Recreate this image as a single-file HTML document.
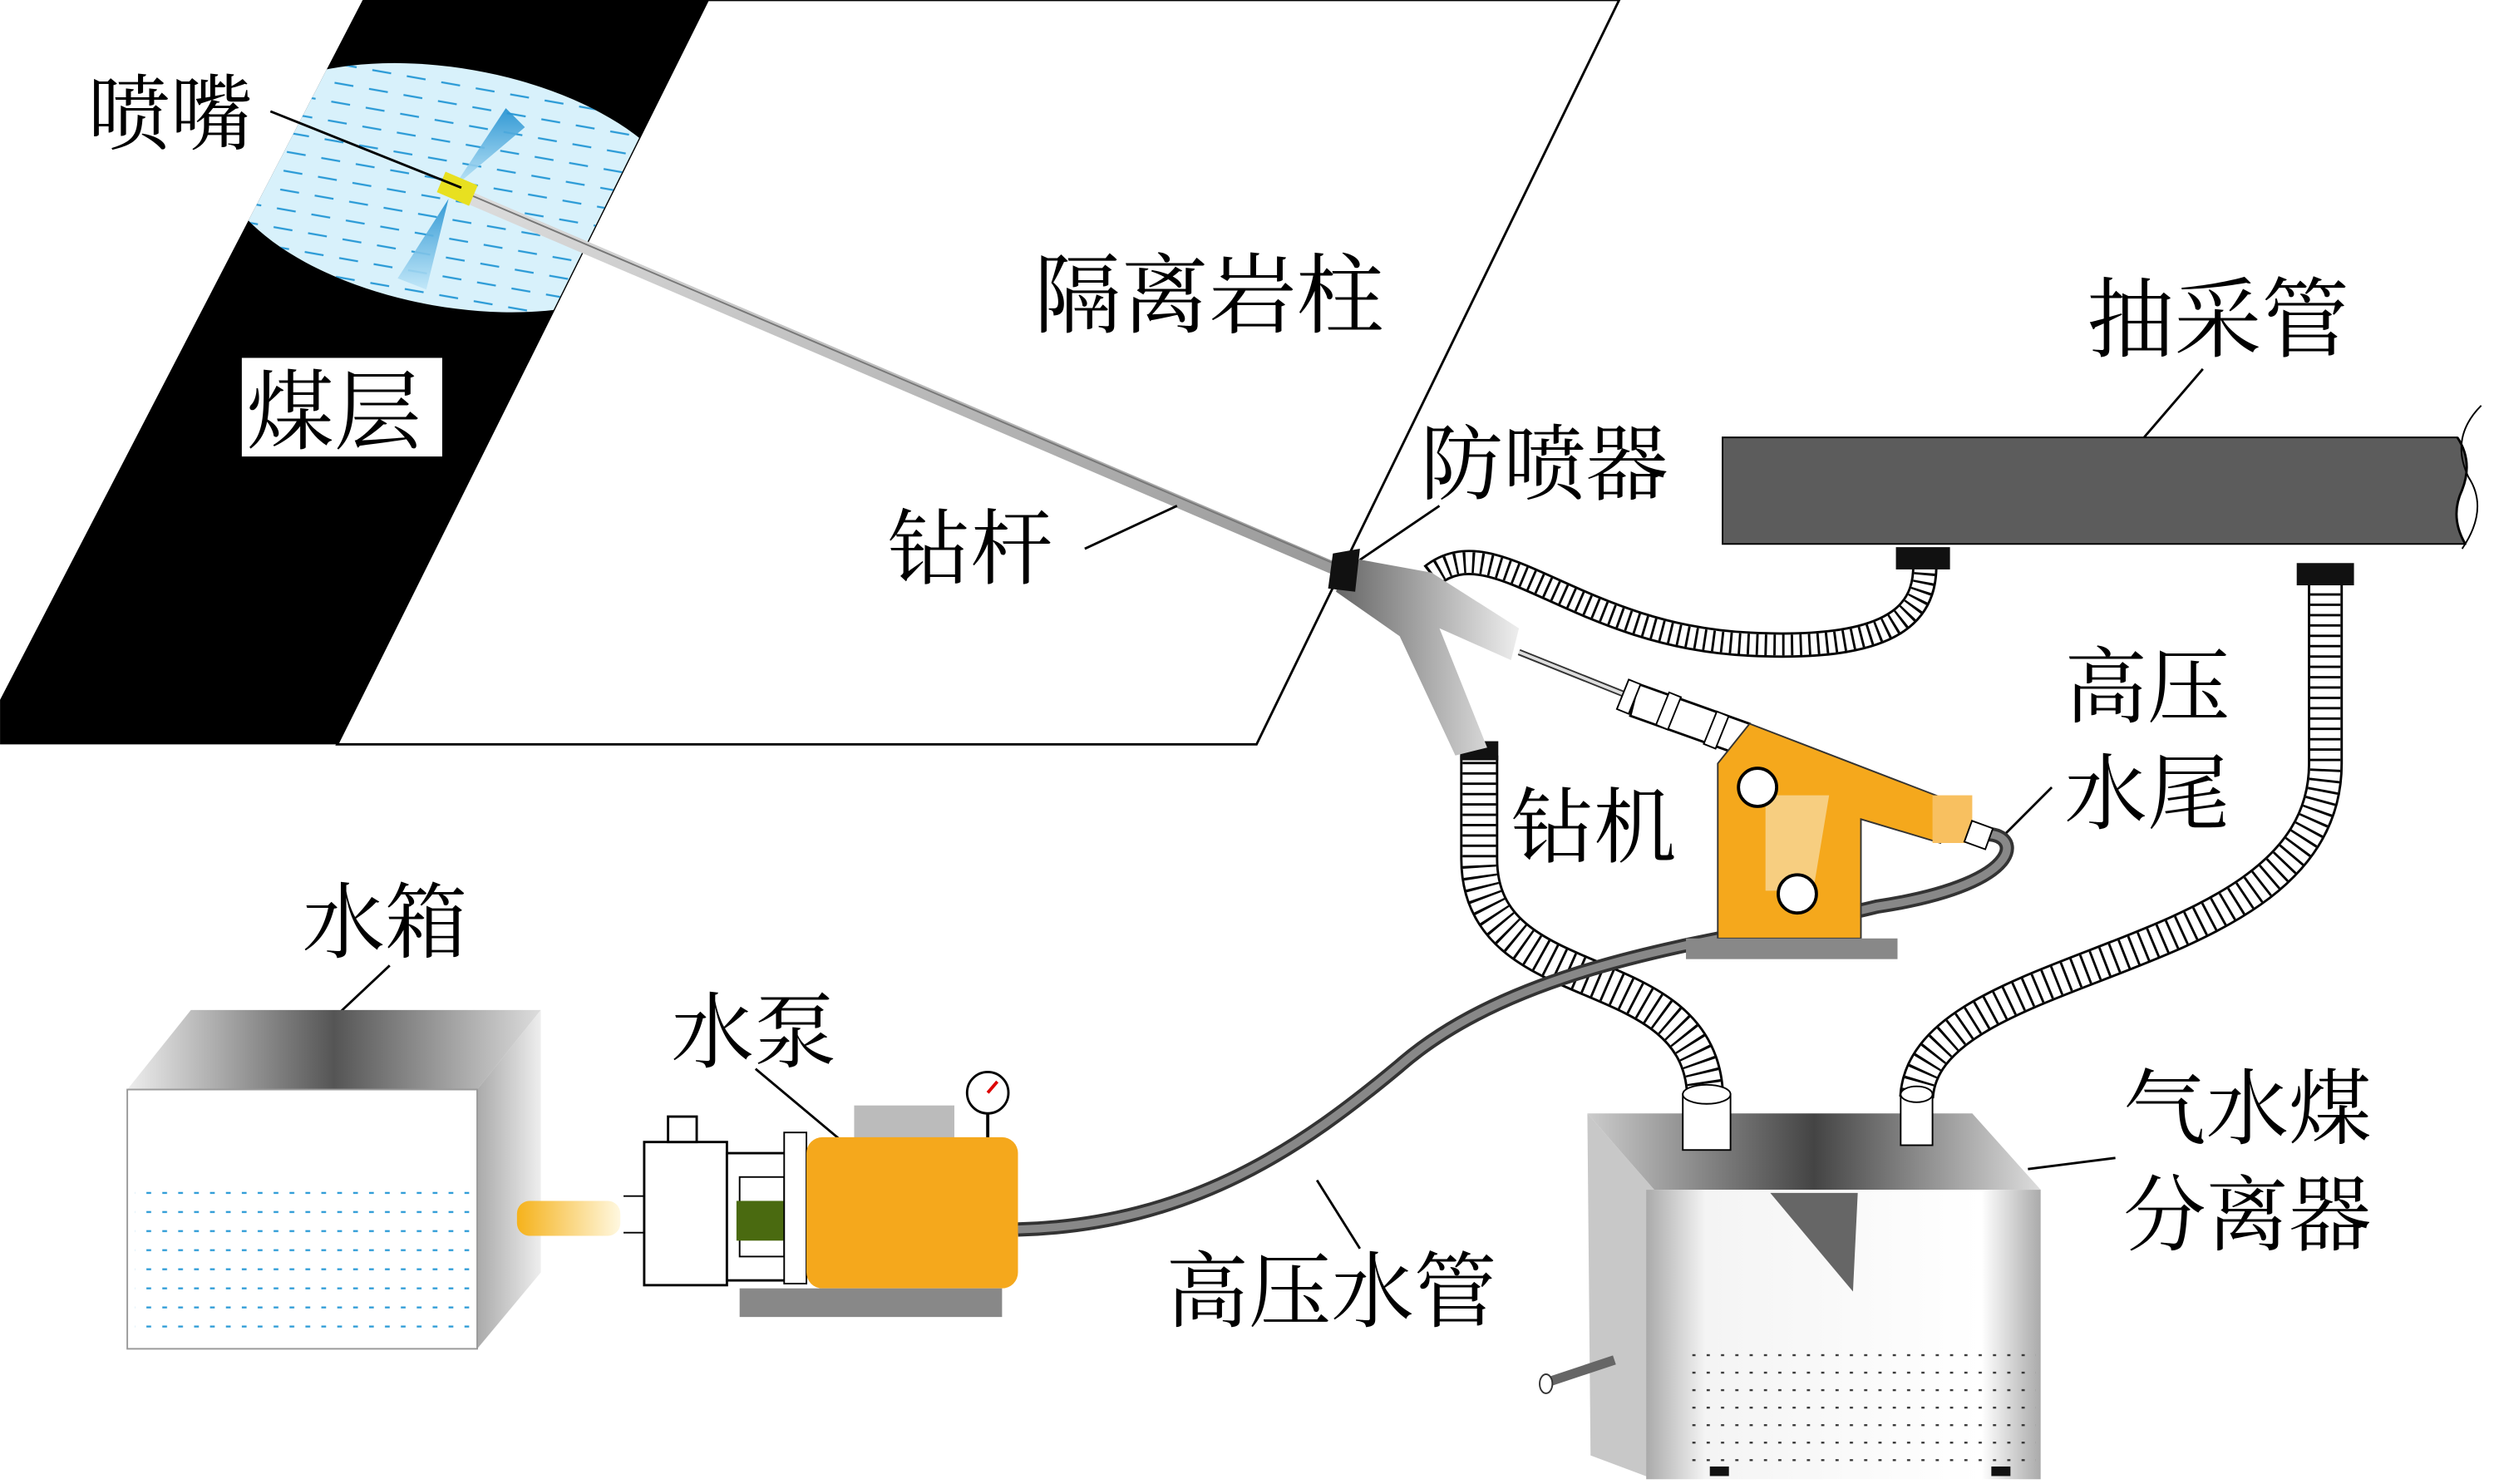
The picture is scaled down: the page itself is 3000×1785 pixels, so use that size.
<!DOCTYPE html>
<html><head><meta charset="utf-8"><style>
html,body{margin:0;padding:0;background:#fff}
svg{display:block}
text{font-family:"Liberation Serif","Noto Serif CJK SC","Noto Sans CJK SC",serif;fill:#000}
</style></head><body>
<svg width="3000" height="1785" viewBox="0 0 1568 933" xmlns="http://www.w3.org/2000/svg">
<defs>
<linearGradient id="rod" x1="0" y1="0" x2="1" y2="1"><stop offset="0" stop-color="#ddd"/><stop offset="1" stop-color="#999"/></linearGradient>
<linearGradient id="tankTop" x1="0" y1="0" x2="1" y2="0"><stop offset="0" stop-color="#eee"/><stop offset="0.5" stop-color="#555"/><stop offset="1" stop-color="#ddd"/></linearGradient>
<linearGradient id="tankSide" x1="0" y1="0" x2="1" y2="0"><stop offset="0" stop-color="#aaa"/><stop offset="1" stop-color="#eee"/></linearGradient>
<linearGradient id="sepFront" x1="0" y1="0" x2="1" y2="0"><stop offset="0" stop-color="#aaa"/><stop offset="0.15" stop-color="#f4f4f4"/><stop offset="0.85" stop-color="#fff"/><stop offset="1" stop-color="#aaa"/></linearGradient>
<linearGradient id="sepTop" x1="0" y1="0" x2="1" y2="0"><stop offset="0" stop-color="#ccc"/><stop offset="0.5" stop-color="#444"/><stop offset="1" stop-color="#ddd"/></linearGradient>
<linearGradient id="yel" x1="0" y1="0" x2="1" y2="0"><stop offset="0" stop-color="#f5b21b"/><stop offset="1" stop-color="#fff8e0"/></linearGradient>
<linearGradient id="spray" x1="0" y1="0" x2="0" y2="1"><stop offset="0" stop-color="#1f8fd0"/><stop offset="1" stop-color="#bfe6f8"/></linearGradient>
<linearGradient id="prev" x1="0" y1="0" x2="1" y2="0"><stop offset="0" stop-color="#666"/><stop offset="1" stop-color="#eee"/></linearGradient>
<pattern id="dash" width="22" height="12" patternUnits="userSpaceOnUse"><line x1="2" y1="6" x2="14" y2="6" stroke="#2a9ad6" stroke-width="1.2"/></pattern>
<pattern id="dots" width="10" height="12" patternUnits="userSpaceOnUse"><line x1="2" y1="6" x2="5" y2="6" stroke="#2a9ad6" stroke-width="1.2"/></pattern>
<pattern id="dotsk" width="9" height="11" patternUnits="userSpaceOnUse"><line x1="2" y1="5" x2="4" y2="5" stroke="#333" stroke-width="1.2"/></pattern>
<clipPath id="band"><polygon points="228,0 445,0 212,468 0,468 0,440"/></clipPath>
</defs>

<polygon points="228,0 445,0 212,468 0,468 0,440" fill="#000"/>
<polygon points="445,0 1018,0 790,468 212,468" fill="#fff" stroke="#000" stroke-width="1.5"/>
<g clip-path="url(#band)">
<ellipse cx="285" cy="118" rx="150" ry="75" transform="rotate(10 285 118)" fill="#d8f1fb"/>
<ellipse cx="285" cy="118" rx="150" ry="75" transform="rotate(10 285 118)" fill="url(#dash)"/>
</g>
<polygon points="285,118 318,68 330,80" fill="url(#spray)" opacity="0.9"/>
<polygon points="282,125 250,175 268,182" fill="url(#spray)" opacity="0.9"/>
<line x1="285" y1="120" x2="845" y2="360" stroke="url(#rod)" stroke-width="8"/>
<line x1="285" y1="118" x2="845" y2="357" stroke="#777" stroke-width="1"/>
<rect x="276" y="112" width="22" height="14" fill="#e8e020" transform="rotate(23 288 120)"/>
<line x1="170" y1="70" x2="290" y2="118" stroke="#000" stroke-width="1.5"/>

<text x="55" y="90" font-size="52">喷嘴</text>
<rect x="152" y="225" width="126" height="62" fill="#fff"/>
<text x="155" y="278" font-size="55">煤层</text>
<text x="650" y="205" font-size="55">隔离岩柱</text>
<text x="558" y="363" font-size="52">钻杆</text>
<line x1="682" y1="345" x2="740" y2="318" stroke="#000" stroke-width="1.5"/>
<text x="893" y="310" font-size="52">防喷器</text>
<line x1="905" y1="318" x2="855" y2="352" stroke="#000" stroke-width="1.5"/>
<text x="1312" y="220" font-size="55">抽采管</text>
<line x1="1385" y1="232" x2="1348" y2="275" stroke="#000" stroke-width="1.5"/>
<text x="1298" y="450" font-size="52">高压</text>
<text x="1298" y="517" font-size="52">水尾</text>
<line x1="1290" y1="495" x2="1255" y2="530" stroke="#000" stroke-width="1.5"/>
<text x="950" y="538" font-size="52">钻机</text>
<text x="190" y="598" font-size="52">水箱</text>
<line x1="245" y1="607" x2="212" y2="638" stroke="#000" stroke-width="1.5"/>
<text x="422" y="667" font-size="52">水泵</text>
<line x1="475" y1="672" x2="530" y2="718" stroke="#000" stroke-width="1.5"/>
<text x="733" y="830" font-size="52">高压水管</text>
<line x1="855" y1="785" x2="828" y2="742" stroke="#000" stroke-width="1.5"/>
<text x="1335" y="715" font-size="52">气水煤</text>
<text x="1335" y="782" font-size="52">分离器</text>
<line x1="1330" y1="728" x2="1275" y2="735" stroke="#000" stroke-width="1.5"/>

<path d="M1083,275 L1545,275 Q1555,290 1548,308 Q1540,325 1550,342 L1083,342 Z" fill="#5c5c5c" stroke="#000" stroke-width="1"/>
<path d="M1545,275 Q1555,290 1548,308 Q1540,325 1550,342" fill="none" stroke="#000" stroke-width="1.5"/>
<path d="M1560,255 Q1540,275 1552,300 Q1565,320 1548,345" fill="none" stroke="#000" stroke-width="1"/>

<g fill="none">
<path id="h1" d="M900,362 C940,330 990,400 1100,405 C1200,410 1212,380 1210,350"/>
<path id="h2" d="M1072,688 C1068,600 930,630 930,540 L930,475"/>
<path id="h3" d="M1462,360 L1462,480 C1462,610 1210,600 1205,690"/>
</g>
<g fill="none" stroke-linecap="butt">
<use href="#h1" stroke="#000" stroke-width="16"/><use href="#h1" stroke="#fff" stroke-width="13"/><use href="#h1" stroke="#000" stroke-width="13" stroke-dasharray="1.5 4"/>
<use href="#h2" stroke="#000" stroke-width="24"/><use href="#h2" stroke="#fff" stroke-width="21"/><use href="#h2" stroke="#000" stroke-width="21" stroke-dasharray="1.5 5"/>
<use href="#h3" stroke="#000" stroke-width="22"/><use href="#h3" stroke="#fff" stroke-width="19"/><use href="#h3" stroke="#000" stroke-width="19" stroke-dasharray="1.5 5"/>
</g>
<rect x="1192" y="344" width="34" height="14" fill="#111"/>
<rect x="1444" y="354" width="36" height="14" fill="#111"/>
<rect x="918" y="466" width="24" height="12" fill="#111"/>

<path d="M640,773 C750,770 820,720 880,670 C960,600 1100,590 1180,570 C1280,555 1270,520 1245,525" fill="none" stroke="#333" stroke-width="9"/>
<path d="M640,773 C750,770 820,720 880,670 C960,600 1100,590 1180,570 C1280,555 1270,520 1245,525" fill="none" stroke="#888" stroke-width="5"/>

<polygon points="845,350 900,360 955,395 950,415 905,395 935,470 915,475 880,400 840,372" fill="url(#prev)"/>
<polygon points="838,348 855,345 852,372 835,370" fill="#111"/>

<line x1="955" y1="410" x2="1030" y2="440" stroke="#333" stroke-width="4"/>
<line x1="955" y1="410" x2="1030" y2="440" stroke="#ddd" stroke-width="2"/>
<polygon points="1030,430 1100,455 1095,475 1025,450" fill="#fff" stroke="#000" stroke-width="1.5"/>
<rect x="1020" y="428" width="8" height="20" fill="#fff" stroke="#000" transform="rotate(22 1024 438)"/>
<rect x="1045" y="436" width="8" height="22" fill="#fff" stroke="#000" transform="rotate(22 1049 447)"/>
<rect x="1075" y="448" width="8" height="22" fill="#fff" stroke="#000" transform="rotate(22 1079 459)"/>
<polygon points="1080,480 1100,455 1230,505 1220,530 1170,515 1170,590 1080,590" fill="#f5a81c" stroke="#333" stroke-width="1"/>
<polygon points="1110,500 1150,500 1140,560 1110,560" fill="#f8d79a" opacity="0.8"/>
<rect x="1215" y="500" width="25" height="30" fill="#f8c060"/>
<rect x="1237" y="518" width="14" height="14" fill="#fff" stroke="#000" transform="rotate(20 1244 525)"/>
<circle cx="1105" cy="495" r="12" fill="#fff" stroke="#000" stroke-width="2"/>
<circle cx="1130" cy="562" r="12" fill="#fff" stroke="#000" stroke-width="2"/>
<rect x="1060" y="590" width="133" height="13" fill="#888"/>

<polygon points="80,685 120,635 340,635 300,685" fill="url(#tankTop)"/>
<polygon points="300,685 340,635 340,800 300,848" fill="url(#tankSide)"/>
<rect x="80" y="685" width="220" height="163" fill="#fff" stroke="#999" stroke-width="1"/>
<rect x="85" y="740" width="210" height="105" fill="url(#dots)"/>
<rect x="325" y="755" width="65" height="22" rx="8" fill="url(#yel)"/>

<rect x="405" y="718" width="52" height="90" fill="#fff" stroke="#000" stroke-width="1.5"/>
<rect x="420" y="702" width="18" height="16" fill="#fff" stroke="#000" stroke-width="1.5"/>
<line x1="392" y1="752" x2="405" y2="752" stroke="#000"/><line x1="392" y1="775" x2="405" y2="775" stroke="#000"/>
<rect x="457" y="725" width="45" height="80" fill="#fff" stroke="#000" stroke-width="1.5"/>
<rect x="465" y="740" width="28" height="50" fill="#fff" stroke="#000"/>
<rect x="463" y="755" width="30" height="25" fill="#4a6a10"/>
<rect x="493" y="712" width="14" height="95" fill="#fff" stroke="#000"/>
<rect x="537" y="695" width="63" height="22" fill="#bbb"/>
<line x1="621" y1="700" x2="621" y2="718" stroke="#000" stroke-width="2"/>
<circle cx="621" cy="687" r="13" fill="#fff" stroke="#000" stroke-width="1.5"/>
<line x1="621" y1="687" x2="627" y2="680" stroke="#d00" stroke-width="2"/>
<rect x="507" y="715" width="133" height="95" rx="10" fill="#f5a81c"/>
<rect x="465" y="810" width="165" height="18" fill="#888"/>

<polygon points="998,700 1240,700 1283,748 1040,748" fill="url(#sepTop)"/>
<polygon points="998,700 1040,748 1040,930 1000,915" fill="#c8c8c8"/>
<rect x="1035" y="748" width="248" height="182" fill="url(#sepFront)"/>
<rect x="1060" y="850" width="220" height="70" fill="url(#dotsk)"/>
<polygon points="1113,750 1168,750 1165,812" fill="#666"/>
<line x1="970" y1="870" x2="1015" y2="855" stroke="#666" stroke-width="6"/>
<ellipse cx="972" cy="870" rx="4" ry="6" fill="#fff" stroke="#333"/>
<rect x="1058" y="688" width="30" height="35" fill="#fff" stroke="#000"/>
<ellipse cx="1073" cy="688" rx="15" ry="6" fill="#fff" stroke="#000"/>
<rect x="1195" y="688" width="20" height="32" fill="#fff" stroke="#000"/>
<ellipse cx="1205" cy="688" rx="10" ry="5" fill="#fff" stroke="#000"/>
<rect x="1075" y="922" width="12" height="6" fill="#111"/><rect x="1252" y="922" width="12" height="6" fill="#111"/>
</svg>
</body></html>
